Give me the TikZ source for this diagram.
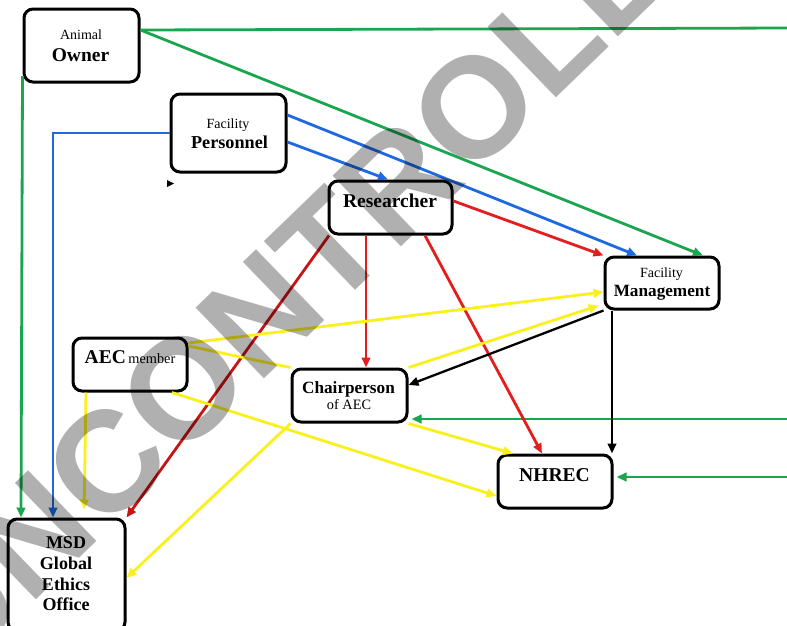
\documentclass[tikz,border=0pt]{standalone}
\usepackage{fontspec}
\setmainfont{Liberation Serif}
\newfontfamily\wmfont{Liberation Sans}
\usetikzlibrary{arrows.meta}
\definecolor{cgreen}{RGB}{28,165,80}
\definecolor{cblue}{RGB}{30,105,225}
\definecolor{cred}{RGB}{228,30,30}
\definecolor{cdred}{RGB}{200,20,20}
\definecolor{cyel}{RGB}{250,240,30}
\newcommand\fsz[1]{\fontsize{#1}{#1}\selectfont}
\begin{document}
\begin{tikzpicture}[x=1pt,y=-1pt,
  box/.style={draw=black, line width=3pt, rounded corners=9pt, inner sep=0pt},
  lbl/.style={anchor=base, inner sep=0pt},
  con/.style={line width=2.8pt, -{Triangle[length=10pt,width=8.5pt]}},
  plain/.style={line width=2.8pt},
  kcon/.style={line width=2.3pt, black, -{Triangle[length=10pt,width=8.5pt]}}
]
\fill[white] (0,0) rectangle (787,625);
\useasboundingbox (0,0) rectangle (787,625);

% boxes
\node[box, minimum width=115pt, minimum height=73pt] (owner) at (81.5,45.5) {};
\node[box, minimum width=115pt, minimum height=78pt] (pers) at (228.5,133) {};
\node[box, minimum width=123pt, minimum height=53pt] (res) at (390.5,207.5) {};
\node[box, minimum width=114pt, minimum height=52pt] (mgmt) at (662,283) {};
\node[box, minimum width=114pt, minimum height=53pt] (aec) at (130,364.5) {};
\node[box, minimum width=115pt, minimum height=53pt] (chair) at (349.5,395.5) {};
\node[box, minimum width=114pt, minimum height=53pt] (nhrec) at (555,481.5) {};
\node[box, minimum width=117pt, minimum height=112pt] (msd) at (66.5,575) {};

% labels
\node[lbl, font=\fsz{14}] (tAnimal) at (81,39) {Animal};
\node[lbl, font=\fsz{19.5}\bfseries] (tOwner) at (80.5,61) {Owner};
\node[lbl, font=\fsz{14}] (tFac1) at (228,128) {Facility};
\node[lbl, font=\fsz{18.2}\bfseries] (tPers) at (229.5,148) {Personnel};
\node[lbl, font=\fsz{19.5}\bfseries] (tRes) at (390,207) {Researcher};
\node[lbl, font=\fsz{14}] (tFac2) at (661.5,277) {Facility};
\node[lbl, font=\fsz{17.2}\bfseries] (tMgmt) at (662,296) {Management};
\node[lbl] (tAec) at (130,363) {{\fsz{19.5}\bfseries AEC} {\fsz{14.3}member}};
\node[lbl, font=\fsz{17.2}\bfseries] (tChair) at (348.5,393) {Chairperson};
\node[lbl, font=\fsz{14.3}] (tOfAec) at (349,409) {of AEC};
\node[lbl, font=\fsz{19.6}\bfseries] (tNhrec) at (554.5,481) {NHREC};
\node[lbl, font=\fsz{18}\bfseries] (tMsd1) at (66,548) {MSD};
\node[lbl, font=\fsz{18}\bfseries] (tMsd2) at (66,569) {Global};
\node[lbl, font=\fsz{18}\bfseries] (tMsd3) at (66,590) {Ethics};
\node[lbl, font=\fsz{18}\bfseries] (tMsd4) at (66,610) {Office};

% free ends at the right edge
\coordinate (gR1) at (787,28);
\coordinate (gR2) at (787,419);
\coordinate (gR3) at (787,477);

% green
\draw[plain, cgreen] (owner.east |- 0,30) -- (gR1);
\draw[con, cgreen] (owner.east |- 0,30) -- (mgmt.north -| 703,0);
\draw[con, cgreen] (owner.west |- 0,76) -- (msd.north -| 21,0);
\draw[con, cgreen, shorten >=3pt] (gR2) -- (chair.east |- 0,419);
\draw[con, cgreen, shorten >=3pt] (gR3) -- (nhrec.east |- 0,477);

% blue
\draw[con, cblue] (pers.west |- 0,133) -| (msd.north -| 53,0);
\draw[con, cblue] (pers.east |- 0,115) -- (mgmt.north -| 637,0);
\draw[con, cblue] (pers.east |- 0,142) -- (res.north -| 388,0);

% red
\draw[con, cred] (res.east |- 0,201) -- (mgmt.north west);
\draw[con, cred] (res.south -| 366,0) -- (chair.north -| 366,0);
\draw[con, cred] (res.south -| 425,0) -- (nhrec.north -| 542,0);
\draw[con, cdred] (res.south -| 329,0) -- (msd.north east);

% yellow
\draw[con, cyel] (aec.east |- 0,343) -- (mgmt.west |- 0,292);
\draw[plain, cyel] (aec.east |- 0,346) -- (chair.north west);
\draw[con, cyel, shorten >=5pt] (chair.north east) -- (mgmt.west |- 0,304);
\draw[con, cyel] (aec.south -| 172,0) -- (nhrec.west |- 0,496);
\draw[con, cyel] (chair.south east) -- (nhrec.north -| 513,0);
\draw[con, cyel, shorten >=8pt] (aec.south -| 86,0) -- (msd.north -| 84,0);
\draw[con, cyel] (chair.south west) -- (msd.east |- 0,578);

% black
\draw[kcon] (mgmt.south west) -- (chair.east |- 0,385);
\draw[kcon] (mgmt.south -| 612,0) -- (nhrec.north -| 612,0);

% small marker
\fill[black] (167,180) -- (174,183.5) -- (167,187) -- cycle;

% watermark
\node[rotate=44, inner sep=0pt, text=black, text opacity=0.31,
      font=\wmfont\bfseries\fsz{143}] (wm) at (352,226) {UNCONTROLLED};
\end{tikzpicture}
\end{document}
